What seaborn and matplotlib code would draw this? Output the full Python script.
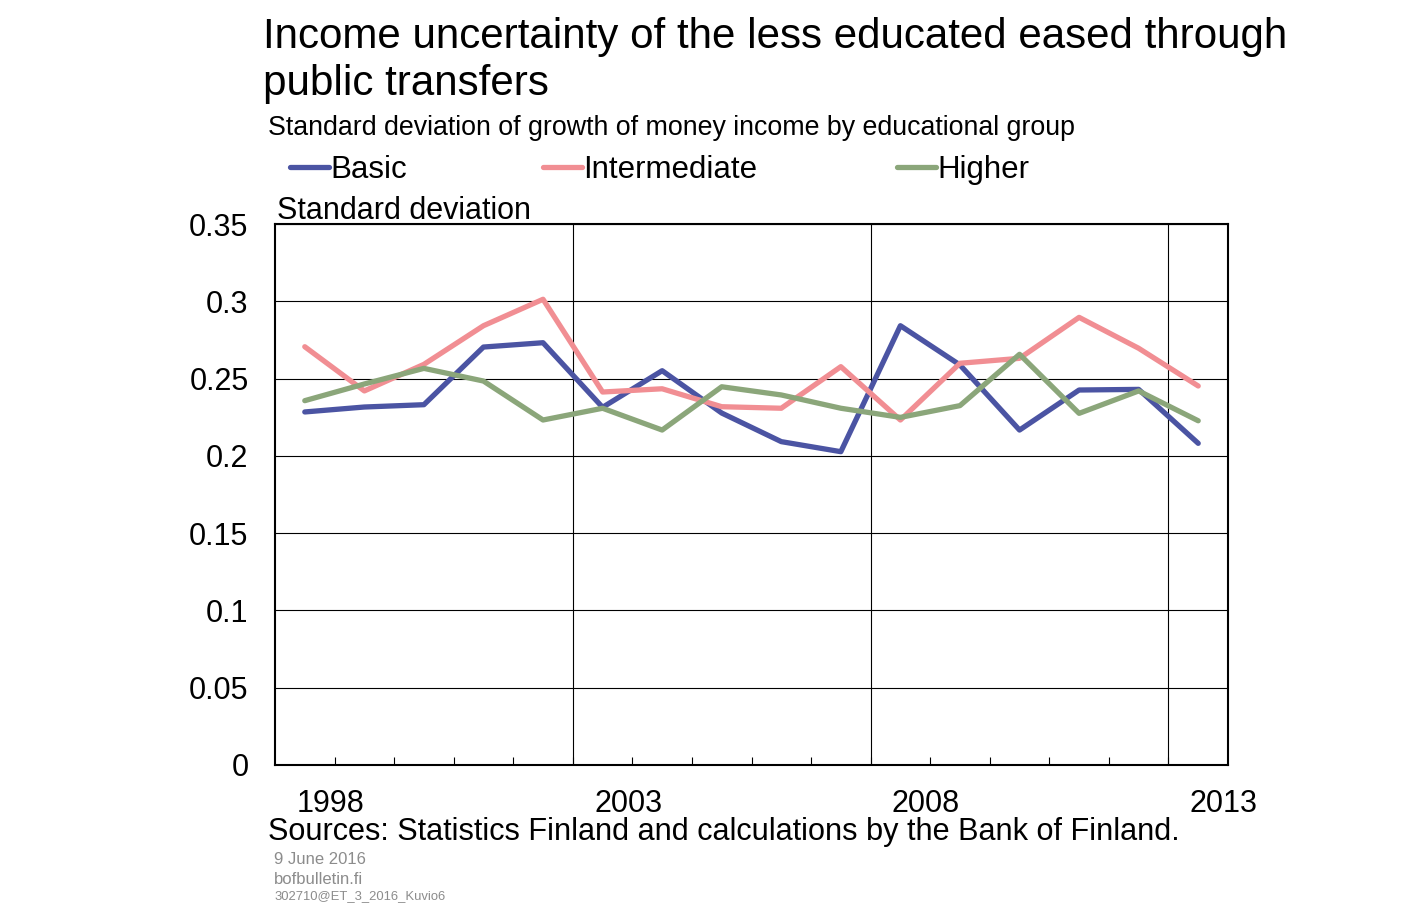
import matplotlib
matplotlib.use("Agg")
import matplotlib.pyplot as plt
import seaborn as sns
import pandas as pd
import numpy as np
from matplotlib.lines import Line2D

years = list(range(1998, 2014))
basic = [0.2284, 0.2316, 0.2331, 0.2704, 0.2732, 0.2314, 0.2551, 0.2277,
         0.2092, 0.2027, 0.2842, 0.2588, 0.2167, 0.2426, 0.2430, 0.2081]
intermediate = [0.2706, 0.2420, 0.2592, 0.2842, 0.3013, 0.2413, 0.2434, 0.2318,
                0.2308, 0.2577, 0.2232, 0.2599, 0.2631, 0.2896, 0.2696, 0.2452]
higher = [0.2357, 0.2465, 0.2566, 0.2484, 0.2232, 0.2308, 0.2167, 0.2447,
          0.2394, 0.2308, 0.2249, 0.2325, 0.2657, 0.2275, 0.2420, 0.2227]
series_names = ["Basic", "Intermediate", "Higher"]
colors = ["#4b54a3", "#f18e93", "#8ba67a"]
yticks = [0, 0.05, 0.1, 0.15, 0.2, 0.25, 0.3, 0.35]
ytick_labels = ["0", "0.05", "0.1", "0.15", "0.2", "0.25", "0.3", "0.35"]
xtick_years = [1998, 2003, 2008, 2013]

sns.set_theme(style="white")
plt.rcParams['font.family'] = ['Liberation Sans', 'DejaVu Sans']
plt.rcParams['text.color'] = 'black'

rows = []
for name, vals in zip(series_names, [basic, intermediate, higher]):
    for i, (yr, v) in enumerate(zip(years, vals)):
        rows.append({"idx": i, "year": yr, "value": v, "group": name})
df = pd.DataFrame(rows)

W, H = 1407, 919
fig = plt.figure(figsize=(W / 100, H / 100), dpi=100)
ax = fig.add_axes([275 / W, 1 - 765 / H, (1228 - 275) / W, (765 - 224) / H])

sns.lineplot(data=df, x="idx", y="value", hue="group", hue_order=series_names,
             palette=colors, linewidth=3.8, ax=ax, legend=False)

n = len(years)
ax.set_xlim(-0.5, n - 0.5)
ax.set_ylim(0, 0.35)
ax.set_yticks(yticks)
ax.set_yticklabels(ytick_labels)
ax.yaxis.grid(True, color="black", linewidth=0.8)
ax.xaxis.grid(False)
for b in [4.5, 9.5, 14.5]:
    ax.axvline(b, color="black", linewidth=0.8, zorder=0.5)

xt = [years.index(y) + 0.43 for y in xtick_years]
ax.set_xticks(xt)
ax.set_xticklabels([str(y) for y in xtick_years])
ax.set_xticks([i + 0.5 for i in range(n - 1)], minor=True)
ax.tick_params(axis="x", which="major", length=0, pad=17, labelsize=22, colors="black")
ax.tick_params(axis="x", which="minor", length=6, width=0.8, direction="in", bottom=True, color="black")
ax.tick_params(axis="y", length=0, pad=19, labelsize=22, colors="black")
ax.set_xlabel("")
ax.set_ylabel("")
for s in ax.spines.values():
    s.set_color("black")
    s.set_linewidth(1.5)
    s.set_visible(True)

legend_x = [290, 543, 897]
for name, c, lx in zip(series_names, colors, legend_x):
    h = Line2D([0], [0], color=c, linewidth=3.8, solid_capstyle="round")
    fig.legend([h], [name], loc="center left", bbox_to_anchor=(lx / W, 1 - 170 / H),
               bbox_transform=fig.transFigure, frameon=False, fontsize=22.5,
               handlelength=1.25, handletextpad=0.05, borderpad=0, borderaxespad=0)

fig.text(263 / W, 1 - 48 / H, "Income uncertainty of the less educated eased through",
         fontsize=30.3, va="baseline", ha="left")
fig.text(263 / W, 1 - 95 / H, "public transfers",
         fontsize=30.3, va="baseline", ha="left")
fig.text(268 / W, 1 - 128 / H, "Standard deviation of growth of money income by educational group",
         fontsize=19.3, va="center", ha="left")
fig.text(277 / W, 1 - 211 / H, "Standard deviation", fontsize=22, va="center", ha="left")
fig.text(268 / W, 1 - 832 / H, "Sources: Statistics Finland and calculations by the Bank of Finland.",
         fontsize=22.1, va="center", ha="left")
fig.text(274 / W, 1 - 859 / H, "9 June 2016", fontsize=12, color="#8c8c8c", va="center", ha="left")
fig.text(274 / W, 1 - 879 / H, "bofbulletin.fi", fontsize=12, color="#8c8c8c", va="center", ha="left")
fig.text(274 / W, 1 - 896 / H, "302710@ET_3_2016_Kuvio6", fontsize=9.4, color="#8c8c8c", va="center", ha="left")

fig.savefig("out.png", dpi=100)
